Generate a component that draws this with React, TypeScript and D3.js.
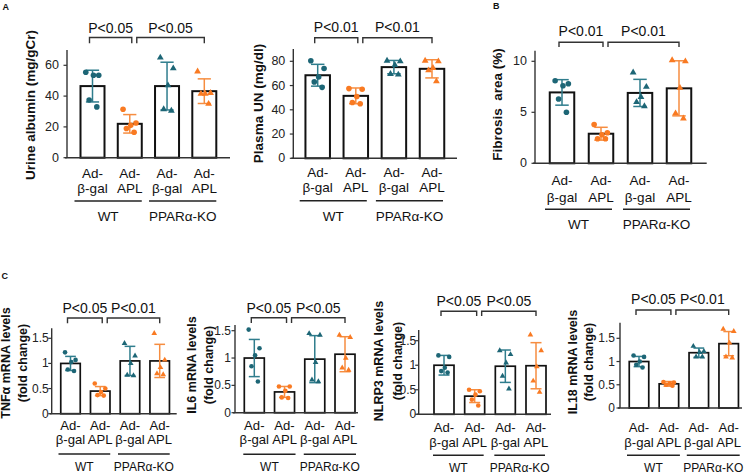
import React from "react";
import * as d3 from "d3";

// ---------- categories ----------
const categories = ["WT-bgal", "WT-APL", "KO-bgal", "KO-APL"];
const treatLine1 = ["Ad-", "Ad-", "Ad-", "Ad-"];
const treatLine2 = ["β-gal", "APL", "β-gal", "APL"];
const genotypes = ["WT", "PPARα-KO"];
const markerShape = ["circle", "circle", "triangle", "triangle"];

// ---------- data ----------
const urineAlbuminMean = [46.5, 22, 46.5, 43.2];
const urineAlbuminSD = [10.3, 6, 15.5, 8];
const urineAlbuminPts = [
  [55.5, 53.5, 53.5, 37.5, 33],
  [31.5, 22.5, 21, 19, 16.5],
  [65, 58, 47, 31.5, 30.5],
  [56, 42, 41.5, 41.5, 35],
];
const urineAlbuminTicks = [0, 20, 40, 60];
const urineAlbuminP = ["P<0.05", "P<0.05"];

const plasmaUNMean = [68.5, 51.5, 75.2, 73.8];
const plasmaUNSD = [9, 6.5, 5.5, 7.5];
const plasmaUNPts = [
  [80.5, 74, 67, 63, 58.5],
  [57.5, 57, 51, 46, 45],
  [80.5, 80, 77, 69.5, 69],
  [80.5, 80, 74.5, 72.5, 63.5],
];
const plasmaUNTicks = [0, 20, 40, 60, 80];
const plasmaUNP = ["P<0.01", "P<0.01"];

const fibrosisMean = [6.95, 2.9, 6.9, 7.35];
const fibrosisSD = [1.25, 0.63, 1.33, 2.7];
const fibrosisPts = [
  [8.1, 7.8, 7.6, 6.3, 5.0],
  [3.8, 3.0, 2.8, 2.4, 2.4],
  [8.9, 7.5, 6.5, 6.0, 5.6],
  [10.1, 10.0, 7.4, 4.9, 4.4],
];
const fibrosisTicks = [0, 5, 10];
const fibrosisP = ["P<0.01", "P<0.01"];

const tnfMean = [1.0, 0.45, 1.05, 1.05];
const tnfSD = [0.14, 0.09, 0.29, 0.33];
const tnfPts = [
  [1.22, 1.07, 1.03, 0.88, 0.85],
  [0.6, 0.5, 0.43, 0.37, 0.36],
  [1.4, 1.15, 1.0, 0.77, 0.76],
  [1.6, 1.07, 0.92, 0.8, 0.78],
];
const tnfP = ["P<0.05", "P<0.01"];

const il6Mean = [1.0, 0.38, 0.98, 1.07];
const il6SD = [0.34, 0.1, 0.43, 0.32];
const il6Pts = [
  [1.52, 1.18, 1.05, 0.85, 0.57],
  [0.48, 0.48, 0.4, 0.28, 0.27],
  [1.45, 1.42, 0.92, 0.6, 0.57],
  [1.42, 1.38, 1.0, 0.82, 0.78],
];
const il6P = ["P<0.05", "P<0.05"];

const nlrp3Mean = [1.0, 0.37, 0.98, 0.99];
const nlrp3SD = [0.2, 0.13, 0.33, 0.47];
const nlrp3Pts = [
  [1.2, 1.17, 0.95, 0.88, 0.85],
  [0.5, 0.47, 0.4, 0.3, 0.18],
  [1.3, 1.22, 1.05, 0.78, 0.52],
  [1.62, 1.3, 0.97, 0.68, 0.45],
];
const nlrp3P = ["P<0.05", "P<0.05"];

const il18Mean = [1.0, 0.52, 1.19, 1.385];
const il18SD = [0.11, 0.05, 0.1, 0.26];
const il18Pts = [
  [1.13, 1.1, 1.0, 0.93, 0.87],
  [0.56, 0.55, 0.53, 0.5, 0.48],
  [1.33, 1.22, 1.2, 1.1, 1.1],
  [1.7, 1.65, 1.4, 1.1, 1.08],
];
const il18P = ["P<0.05", "P<0.01"];

const foldTicks = [0, 0.5, 1, 1.5];

// ---------- style ----------
const FONT = "'Liberation Sans', Arial, Helvetica, sans-serif";
const TEAL = "#1d6676";
const TEAL_ERR = "#2f7d8d";
const ORANGE = "#f97a22";
const ORANGE_ERR = "#f68d40";
const pointColor = [TEAL, ORANGE, TEAL, ORANGE];
const errColor = [TEAL_ERR, ORANGE_ERR, TEAL_ERR, ORANGE_ERR];
const jitter = [-0.28, 0.26, 0.04, -0.14, 0.18];

type Layout = {
  axisX: number; xEnd: number; y0: number; refVal: number; refPx: number; axisTop: number;
  c1: number; c4: number; barW: number;
  bracketY: number; bracketLeg: number; pBase: number;
  lab1Base: number; lab2Base: number; groupY: number; groupBase: number; groupPad: [number, number];
  ylabX: number[]; ylabY: number; ylabSize: number;
  tickSize: number; labelSize: number; labelStretch: number; groupSize: number; pSize: number;
  r: number; tri: number; barStroke: number; tickGap: number;
};

type PanelData = {
  mean: number[]; sd: number[]; pts: number[][]; ticks: number[]; p: string[]; ylab: string[];
};

function Panel({ L, D }: { L: Layout; D: PanelData }) {
  const x = d3.scalePoint<string>().domain(categories).range([L.c1, L.c4]);
  const y = d3.scaleLinear().domain([0, L.refVal]).range([L.y0, L.refPx]);
  const cx = (i: number) => x(categories[i]) as number;
  const triPath = d3.symbol().type(d3.symbolTriangle).size(L.tri)() as string;
  const capW = L.barW * 0.55;
  const fmt = (v: number) => String(v);

  const brackets = [
    [cx(0) - 3, cx(1) + 2],
    [cx(1) + 7, cx(3)],
  ];
  const groupsX = [
    [cx(0) - L.groupPad[0], cx(1) + L.groupPad[1]],
    [cx(2) - L.groupPad[0], cx(3) + L.groupPad[1]],
  ];

  return (
    <g fontFamily={FONT}>
      {D.ylab.map((t, i) => (
        <text
          key={"yl" + i}
          transform={`translate(${L.ylabX[i]},${L.ylabY}) rotate(-90)`}
          textAnchor="middle"
          dominantBaseline="central"
          fontWeight="bold"
          fontSize={L.ylabSize}
          fill="#111"
        >
          {t}
        </text>
      ))}
      {D.ticks.map((t) => (
        <g key={"t" + t}>
          <line x1={L.axisX - 3.5} x2={L.axisX} y1={y(t)} y2={y(t)} stroke="#333" strokeWidth={1.2} />
          <text
            x={L.axisX - L.tickGap}
            y={y(t)}
            textAnchor="end"
            dominantBaseline="central"
            fontSize={L.tickSize}
            fill="#222"
          >
            {fmt(t)}
          </text>
        </g>
      ))}
      {categories.map((c, i) => (
        <rect
          key={"b" + c}
          x={cx(i) - L.barW / 2}
          y={y(D.mean[i])}
          width={L.barW}
          height={L.y0 - y(D.mean[i])}
          fill="#fff"
          stroke="#111"
          strokeWidth={L.barStroke}
        />
      ))}
      <line x1={L.axisX} x2={L.axisX} y1={L.axisTop} y2={L.y0} stroke="#333" strokeWidth={1.4} />
      <line x1={L.axisX - 2} x2={L.xEnd} y1={L.y0} y2={L.y0} stroke="#333" strokeWidth={1.6} />
      {categories.map((c, i) => {
        const hi = y(D.mean[i] + D.sd[i]);
        const lo = y(D.mean[i] - D.sd[i]);
        return (
          <g key={"e" + c} stroke={errColor[i]} strokeWidth={1.5}>
            <line x1={cx(i)} x2={cx(i)} y1={hi} y2={lo} />
            <line x1={cx(i) - capW / 2} x2={cx(i) + capW / 2} y1={hi} y2={hi} />
            <line x1={cx(i) - capW / 2} x2={cx(i) + capW / 2} y1={lo} y2={lo} />
          </g>
        );
      })}
      {categories.map((c, i) =>
        D.pts[i].map((v, j) => {
          const px = cx(i) + jitter[j] * L.barW;
          const py = y(v);
          return markerShape[i] === "circle" ? (
            <circle key={c + j} cx={px} cy={py} r={L.r} fill={pointColor[i]} />
          ) : (
            <path key={c + j} d={triPath} transform={`translate(${px},${py})`} fill={pointColor[i]} />
          );
        })
      )}
      {brackets.map(([a, b], k) => (
        <g key={"br" + k}>
          <path
            d={`M${a},${L.bracketLeg}V${L.bracketY}H${b}V${L.bracketLeg}`}
            fill="none"
            stroke="#333"
            strokeWidth={1.4}
          />
          <text x={(a + b) / 2} y={L.pBase} textAnchor="middle" fontSize={L.pSize} fill="#111">
            {D.p[k]}
          </text>
        </g>
      ))}
      {categories.map((c, i) => (
        <g key={"cl" + c} fontSize={L.labelSize} fill="#111" textAnchor="middle">
          <text transform={`translate(${cx(i)},${L.lab1Base}) scale(${L.labelStretch},1)`}>{treatLine1[i]}</text>
          <text transform={`translate(${cx(i)},${L.lab2Base}) scale(${L.labelStretch},1)`}>{treatLine2[i]}</text>
        </g>
      ))}
      {groupsX.map(([a, b], k) => (
        <g key={"g" + k}>
          <line x1={a} x2={b} y1={L.groupY} y2={L.groupY} stroke="#222" strokeWidth={1.5} />
          <text x={(a + b) / 2} y={L.groupBase} textAnchor="middle" fontSize={L.groupSize} fill="#111">
            {genotypes[k]}
          </text>
        </g>
      ))}
    </g>
  );
}

const baseAB = { ylabSize: 13.5, tickSize: 12.5, labelSize: 13.5, labelStretch: 1, groupSize: 13.5, pSize: 14, r: 2.8, tri: 20, barStroke: 2, tickGap: 8 };
const baseC = { ylabSize: 12.5, tickSize: 12, labelSize: 12.5, labelStretch: 1.05, groupSize: 12, pSize: 14, r: 2.3, tri: 14, barStroke: 1.7 };

const layoutA1: Layout = {
  ...baseAB, axisX: 67, xEnd: 230, y0: 157.7, refVal: 60, refPx: 65.3, axisTop: 50,
  c1: 92.5, c4: 204.3, barW: 24, bracketY: 37.5, bracketLeg: 43.3, pBase: 33.3,
  lab1Base: 177.7, lab2Base: 192.7, groupY: 201, groupBase: 221, groupPad: [18, 12],
  ylabX: [30], ylabY: 105,
};
const layoutA2: Layout = {
  ...baseAB, axisX: 293.3, xEnd: 457, y0: 158.3, refVal: 80, refPx: 61.3, axisTop: 49,
  c1: 317.7, c4: 432, barW: 24.5, bracketY: 37.7, bracketLeg: 43.3, pBase: 32.3,
  lab1Base: 176.7, lab2Base: 191.7, groupY: 200.7, groupBase: 220.7, groupPad: [18, 11],
  ylabX: [258.3], ylabY: 103.5,
};
const layoutB: Layout = {
  ...baseAB, axisX: 535, xEnd: 706.7, y0: 163.3, refVal: 10, refPx: 61.3, axisTop: 50.7,
  c1: 562, c4: 679, barW: 24.5, bracketY: 42.3, bracketLeg: 47, pBase: 36,
  lab1Base: 184.7, lab2Base: 201.7, groupY: 209.3, groupBase: 229.3, groupPad: [17, 11],
  ylabX: [497], ylabY: 104.5,
};
const layoutC1: Layout = {
  ...baseC, tickGap: 3, axisX: 51.7, xEnd: 176.7, y0: 413.7, refVal: 1.5, refPx: 338.3, axisTop: 328.3,
  c1: 70.5, c4: 159.7, barW: 19.5, bracketY: 318, bracketLeg: 323.3, pBase: 313.3,
  lab1Base: 430, lab2Base: 444, groupY: 454, groupBase: 471, groupPad: [12, 10],
  ylabX: [6, 23], ylabY: 363,
};
const layoutC2: Layout = {
  ...baseC, tickGap: 4, axisX: 235, xEnd: 358, y0: 412.7, refVal: 1.5, refPx: 330.7, axisTop: 325,
  c1: 254.3, c4: 345, barW: 20, bracketY: 317.7, bracketLeg: 323, pBase: 313.3,
  lab1Base: 430, lab2Base: 444, groupY: 454.3, groupBase: 471, groupPad: [11, 11],
  ylabX: [191.7, 209], ylabY: 365,
};
const layoutC3: Layout = {
  ...baseC, tickGap: 2.5, axisX: 418.7, xEnd: 551, y0: 414.3, refVal: 1.5, refPx: 340.7, axisTop: 330,
  c1: 444, c4: 536, barW: 20, bracketY: 311.3, bracketLeg: 316, pBase: 305.7,
  lab1Base: 432, lab2Base: 446.5, groupY: 455.3, groupBase: 471.5, groupPad: [11, 9],
  ylabX: [379, 397.5], ylabY: 361,
};
const layoutC4: Layout = {
  ...baseC, tickGap: 5, axisX: 620, xEnd: 742, y0: 408, refVal: 1.5, refPx: 338.3, axisTop: 322.7,
  c1: 639, c4: 728.7, barW: 19.5, bracketY: 310, bracketLeg: 315, pBase: 304.3,
  lab1Base: 432, lab2Base: 446.5, groupY: 455.3, groupBase: 471.5, groupPad: [12, 11],
  ylabX: [572.5, 589], ylabY: 362,
};

export default function App() {
  return (
    <svg
      width={749}
      height={474}
      viewBox="0 0 749 474"
      style={{ position: "absolute", left: 0, top: 0, background: "#fff" }}
    >
      <rect width={749} height={474} fill="#fff" />
      <g fontFamily={FONT} fontWeight="bold" fontSize={9} fill="#111">
        <text x={2.5} y={10}>A</text>
        <text x={493} y={8.5}>B</text>
        <text x={1.5} y={278.5}>C</text>
      </g>
      <Panel L={layoutA1} D={{ mean: urineAlbuminMean, sd: urineAlbuminSD, pts: urineAlbuminPts, ticks: urineAlbuminTicks, p: urineAlbuminP, ylab: ["Urine albumin (mg/gCr)"] }} />
      <Panel L={layoutA2} D={{ mean: plasmaUNMean, sd: plasmaUNSD, pts: plasmaUNPts, ticks: plasmaUNTicks, p: plasmaUNP, ylab: ["Plasma UN (mg/dl)"] }} />
      <Panel L={layoutB} D={{ mean: fibrosisMean, sd: fibrosisSD, pts: fibrosisPts, ticks: fibrosisTicks, p: fibrosisP, ylab: ["Fibrosis\u00A0 area (%)"] }} />
      <Panel L={layoutC1} D={{ mean: tnfMean, sd: tnfSD, pts: tnfPts, ticks: foldTicks, p: tnfP, ylab: ["TNFα mRNA levels", "(fold change)"] }} />
      <Panel L={layoutC2} D={{ mean: il6Mean, sd: il6SD, pts: il6Pts, ticks: foldTicks, p: il6P, ylab: ["IL6 mRNA levels", "(fold change)"] }} />
      <Panel L={layoutC3} D={{ mean: nlrp3Mean, sd: nlrp3SD, pts: nlrp3Pts, ticks: foldTicks, p: nlrp3P, ylab: ["NLRP3 mRNA levels", "(fold change)"] }} />
      <Panel L={layoutC4} D={{ mean: il18Mean, sd: il18SD, pts: il18Pts, ticks: foldTicks, p: il18P, ylab: ["IL18 mRNA levels", "(fold change)"] }} />
    </svg>
  );
}
